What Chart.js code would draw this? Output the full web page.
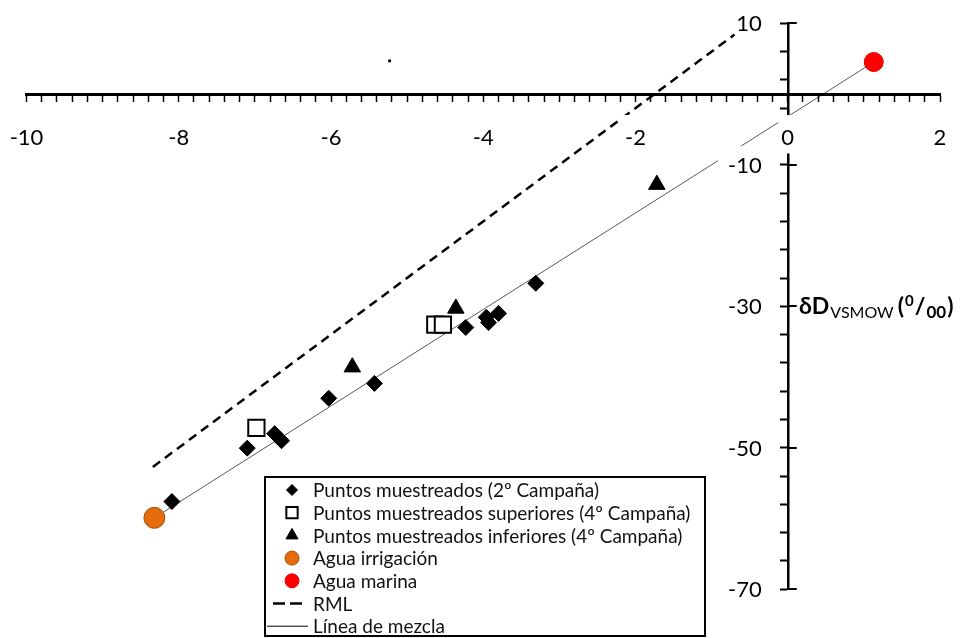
<!DOCTYPE html>
<html>
<head>
<meta charset="utf-8">
<script src="https://cdn.jsdelivr.net/npm/chart.js@4.4.1/dist/chart.umd.min.js"></script>
<style>
  body { margin: 0; background: #fff; }
  canvas { display: block; }
</style>
</head>
<body>
<canvas id="isoChart" width="967" height="638"></canvas>
<script>
// δ18O (x) vs δD (y) values
const diamondX = [-8.09, -7.10, -6.74, -6.65, -6.03, -5.43, -4.23, -3.96, -3.93, -3.80, -3.31];
const diamondY = [-57.6, -50.05, -48.0, -49.0, -43.0, -40.9, -33.0, -31.55, -32.3, -31.0, -26.75];
const squareX = [-6.98, -4.63, -4.53];
const squareY = [-47.2, -32.6, -32.6];
const triangleX = [-5.72, -4.36, -1.72];
const triangleY = [-38.6, -30.3, -12.8];
const irrigationX = [-8.32];
const irrigationY = [-59.9];
const seaX = [1.13];
const seaY = [4.53];
const rmlX = [-8.34, -0.70];
const rmlY = [-52.7, 8.4];
const strayX = [-5.23];
const strayY = [4.7];

const xTicks = [-10, -8, -6, -4, -2, 0, 2];
const yTicks = [-70, -50, -30, -10, 10];

const labels = [
  "Puntos muestreados (2º Campaña)",
  "Puntos muestreados superiores (4º Campaña)",
  "Puntos muestreados inferiores (4º Campaña)",
  "Agua irrigación",
  "Agua marina",
  "RML",
  "Línea de mezcla"
];

const pts = (xs, ys) => xs.map((x, i) => ({ x: x, y: ys[i] }));
const isTick = (list, v) => list.some((t) => Math.abs(t - v) < 1e-6);
const FONT = "Lato, 'Open Sans', sans-serif";

// y tick labels, crossing major ticks, axis title and the legend box
const decorations = {
  id: "decorations",
  afterDraw(chart) {
    const ctx = chart.ctx;
    const xs = chart.scales.x;
    const ys = chart.scales.y;
    const ax = xs.getPixelForValue(0);

    ctx.save();
    ctx.strokeStyle = "#000";
    ctx.lineWidth = 2;
    ctx.font = "22px " + FONT;
    ctx.textAlign = "right";
    ctx.textBaseline = "middle";
    yTicks.forEach((v) => {
      const py = Math.round(ys.getPixelForValue(v));
      ctx.beginPath();
      ctx.moveTo(ax, py);
      ctx.lineTo(ax + 9, py);
      ctx.stroke();
      const txt = String(v);
      const right = ax - 26;
      const w = ctx.measureText(txt).width;
      ctx.fillStyle = "#fff";
      ctx.fillRect(right - w - 10, py - 19, w + 14, 29);
      ctx.fillStyle = "#000";
      ctx.fillText(txt, right, py + 1);
    });

    // axis title
    let tx = 799;
    const base = ys.getPixelForValue(-30) + 8;
    const part = (txt, font, dy, gap) => {
      ctx.font = font;
      ctx.fillStyle = "#000";
      ctx.textBaseline = "alphabetic";
      ctx.textAlign = "left";
      ctx.fillText(txt, tx, base + dy);
      tx += ctx.measureText(txt).width + (gap || 0);
    };
    part("δD", "bold 23px " + FONT, 0, 1);
    part("VSMOW", "16px " + FONT, 4, 4);
    part("(", "bold 23px " + FONT, 0, 1);
    part("0", "bold 15px " + FONT, -8, 1);
    part("/", "bold 23px " + FONT, 0, 1);
    part("00", "bold 17px " + FONT, 4, 1);
    part(")", "bold 23px " + FONT, 0);

    // legend
    const lx = 265, ly = 477, lw = 440, lh = 159;
    ctx.fillStyle = "#fff";
    ctx.fillRect(lx, ly, lw, lh);
    ctx.strokeStyle = "#000";
    ctx.lineWidth = 2;
    ctx.strokeRect(lx, ly, lw, lh);

    const rowY = (i) => ly + 13 + i * 22.7;
    const mx = 292;
    const H = Chart.helpers;
    const mark = (style, r, fill, stroke, bw, i) => {
      ctx.fillStyle = fill;
      ctx.strokeStyle = stroke;
      ctx.lineWidth = bw;
      H.drawPoint(ctx, { pointStyle: style, radius: r, rotation: 0, borderWidth: bw }, mx, rowY(i));
    };
    mark("rectRot", 5.5, "#000", "#000", 1, 0);
    mark("rect", 8, "#fff", "#000", 2, 1);
    mark("triangle", 7, "#000", "#000", 1, 2);
    mark("circle", 7, "#E46C0A", "#A34E08", 1, 3);
    mark("circle", 7, "#FF0000", "#E00000", 1, 4);
    ctx.strokeStyle = "#000";
    ctx.lineWidth = 2.5;
    ctx.setLineDash([12, 5]);
    ctx.beginPath();
    ctx.moveTo(273, rowY(5));
    ctx.lineTo(303, rowY(5));
    ctx.stroke();
    ctx.setLineDash([]);
    ctx.lineWidth = 1;
    ctx.beginPath();
    ctx.moveTo(267, rowY(6));
    ctx.lineTo(308, rowY(6));
    ctx.stroke();

    ctx.font = "19px " + FONT;
    ctx.fillStyle = "#111";
    ctx.textAlign = "left";
    ctx.textBaseline = "middle";
    labels.forEach((t, i) => ctx.fillText(t, 313, rowY(i) + 1));
    ctx.restore();
  }
};

const noPad = (scale) => {
  scale.paddingLeft = 0;
  scale.paddingRight = 0;
  scale.paddingTop = 0;
  scale.paddingBottom = 0;
};

new Chart(document.getElementById("isoChart"), {
  type: "scatter",
  data: {
    datasets: [
      { label: labels[0], data: pts(diamondX, diamondY), pointStyle: "rectRot", pointRadius: 8,
        backgroundColor: "#000", borderColor: "#000", borderWidth: 1, order: 0 },
      { label: labels[1], data: pts(squareX, squareY), pointStyle: "rect", pointRadius: 11.5,
        backgroundColor: "#fff", borderColor: "#000", borderWidth: 2, order: 0 },
      { label: labels[2], data: pts(triangleX, triangleY), pointStyle: "triangle", pointRadius: 9.5,
        backgroundColor: "#000", borderColor: "#000", borderWidth: 1, order: 0 },
      { label: labels[3], data: pts(irrigationX, irrigationY), pointStyle: "circle", pointRadius: 10.5,
        backgroundColor: "#E46C0A", borderColor: "#A34E08", borderWidth: 1, order: 0 },
      { label: labels[4], data: pts(seaX, seaY), pointStyle: "circle", pointRadius: 9.5,
        backgroundColor: "#FF0000", borderColor: "#E00000", borderWidth: 1, order: 0 },
      { label: labels[5], data: pts(rmlX, rmlY), showLine: true, pointRadius: 0,
        borderColor: "#000", borderWidth: 2.5, borderDash: [9, 6], order: 1 },
      { label: labels[6], data: pts(irrigationX.concat(seaX), irrigationY.concat(seaY)), showLine: true,
        pointRadius: 0, borderColor: "rgba(0,0,0,0.65)", borderWidth: 1, order: 1 },
      { label: "", data: pts(strayX, strayY), pointStyle: "rect", pointRadius: 2,
        backgroundColor: "#000", borderColor: "#000", borderWidth: 0, order: 0 }
    ]
  },
  options: {
    responsive: false,
    animation: false,
    devicePixelRatio: 1,
    layout: { padding: { left: 26.5, right: 27, top: 23.3, bottom: 48.7 } },
    plugins: { legend: { display: false }, tooltip: { enabled: false } },
    scales: {
      x: {
        type: "linear",
        position: { y: 0 },
        min: -10,
        max: 2,
        afterFit: noPad,
        border: { width: 3, color: "#000" },
        grid: { drawOnChartArea: false, tickLength: 6, tickWidth: 1.5, tickColor: "#000" },
        ticks: {
          z: 2,
          stepSize: 0.2,
          autoSkip: false,
          maxRotation: 0,
          padding: 25,
          color: "#000",
          font: { family: FONT, size: 22 },
          showLabelBackdrop: (c) => !!c.tick && isTick(xTicks, c.tick.value),
          backdropColor: "#fff",
          backdropPadding: { top: 10, bottom: 2, left: 3, right: 3 },
          callback: (v) => (isTick(xTicks, v) ? Math.round(v) : "")
        }
      },
      y: {
        type: "linear",
        position: { x: 0 },
        min: -70,
        max: 10,
        afterFit: noPad,
        border: { width: 2.5, color: "#000" },
        grid: { drawOnChartArea: false, tickLength: 7, tickWidth: 2, tickColor: "#000" },
        ticks: {
          stepSize: 4,
          autoSkip: false,
          display: false
        }
      }
    }
  },
  plugins: [decorations]
});
</script>
</body>
</html>
